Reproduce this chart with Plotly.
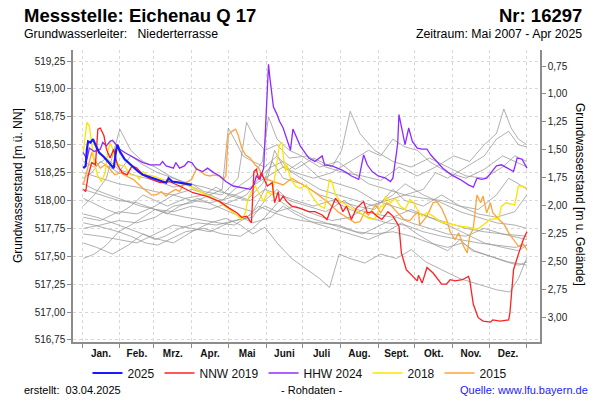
import plotly.graph_objects as go

# ---------------- data ----------------
MONATE = ["Jan.", "Feb.", "Mrz.", "Apr.", "Mai", "Juni", "Juli", "Aug.", "Sept.", "Okt.", "Nov.", "Dez."]
MONATSBEGINN = [0, 31, 59, 90, 120, 151, 181, 212, 243, 273, 304, 334, 365]
GELAENDE = 519.955  # Geländehöhe [m ü. NN]
NN_TICKS = [516.75, 517.00, 517.25, 517.50, 517.75, 518.00, 518.25, 518.50, 518.75, 519.00, 519.25]
GOK_TICKS = [0.75, 1.00, 1.25, 1.50, 1.75, 2.00, 2.25, 2.50, 2.75, 3.00]

tage_2025 = [1, 3, 4, 5, 7, 9, 11, 14, 18, 22, 26, 28, 29, 31, 35, 40, 46, 50, 55, 63, 69, 71, 74, 80, 87, 90]
wert_2025 = [518.29, 518.31, 518.46, 518.53, 518.52, 518.55, 518.50, 518.43, 518.39, 518.34, 518.29, 518.45,
             518.50, 518.44, 518.37, 518.32, 518.26, 518.23, 518.21, 518.18, 518.16, 518.20, 518.17, 518.16,
             518.15, 518.14]

tage_nnw2019 = [1, 3, 5, 8, 11, 13, 15, 18, 20, 23, 26, 29, 33, 37, 41, 45, 50, 57, 64, 72, 80, 91, 102, 113,
                121, 127, 131, 135, 139, 141, 143, 145, 147, 152, 156, 158, 161, 162, 165, 168, 172, 179, 186,
                191, 197, 201, 203, 208, 212, 214, 217, 221, 225, 231, 234, 238, 242, 246, 251, 255, 260, 262,
                266, 272, 275, 276, 279, 283, 288, 295, 299, 302, 306, 312, 317, 318, 321, 325, 329, 335, 337,
                343, 350, 351, 354, 358, 362, 365]
wert_nnw2019 = [518.10, 518.08, 518.22, 518.34, 518.32, 518.64, 518.65, 518.58, 518.46, 518.38,
                518.46, 518.32, 518.25, 518.23, 518.31, 518.29, 518.23, 518.19, 518.16, 518.17,
                518.13, 518.07, 518.04, 517.99, 517.93, 517.89, 517.85, 517.86, 517.80, 518.26,
                518.28, 518.19, 518.25, 518.13, 518.16, 517.98, 518.08, 517.99, 518.04, 517.99,
                517.95, 517.93, 517.90, 517.90, 517.87, 517.83, 517.89, 518.02, 517.96, 517.90,
                517.95, 517.83, 517.93, 517.99, 517.89, 517.90, 517.86, 517.83, 517.90, 517.86,
                517.77, 517.53, 517.38, 517.31, 517.28, 517.33, 517.26, 517.40, 517.35, 517.25,
                517.25, 517.29, 517.28, 517.29, 517.32, 517.29, 517.07, 516.95, 516.92, 516.91,
                516.93, 516.92, 516.93, 516.99, 517.38, 517.52, 517.65, 517.72]

tage_hhw2024 = [1, 4, 6, 10, 15, 17, 20, 23, 25, 28, 31, 35, 40, 45, 50, 56, 64, 66, 69, 75, 77, 80, 84, 87,
                90, 94, 99, 103, 108, 113, 118, 124, 134, 138, 141, 143, 146, 149, 151, 153, 154, 157, 160,
                162, 165, 168, 171, 173, 176, 179, 186, 191, 197, 199, 205, 212, 217, 221, 227, 231, 234, 238,
                243, 249, 253, 255, 258, 259, 260, 262, 265, 268, 271, 275, 279, 283, 286, 291, 296, 303, 310,
                317, 321, 324, 328, 332, 336, 340, 344, 350, 354, 357, 361, 365]
wert_hhw2024 = [518.43, 518.37, 518.47, 518.44, 518.46, 518.52, 518.49, 518.53, 518.54, 518.50,
                518.46, 518.43, 518.40, 518.37, 518.34, 518.32, 518.32, 518.35, 518.31, 518.29,
                518.34, 518.29, 518.31, 518.35, 518.34, 518.28, 518.26, 518.29, 518.25, 518.22,
                518.17, 518.13, 518.11, 518.10, 518.14, 518.22, 518.19, 518.29, 518.76, 519.22,
                519.11, 518.84, 518.77, 518.71, 518.65, 518.55, 518.45, 518.64, 518.57, 518.49,
                518.38, 518.35, 518.40, 518.32, 518.31, 518.28, 518.25, 518.22, 518.19, 518.41,
                518.32, 518.26, 518.22, 518.20, 518.17, 518.20, 518.43, 518.52, 518.77, 518.67,
                518.50, 518.65, 518.53, 518.47, 518.46, 518.46, 518.41, 518.35, 518.29, 518.23,
                518.19, 518.14, 518.12, 518.20, 518.19, 518.20, 518.26, 518.31, 518.32, 518.28,
                518.26, 518.38, 518.37, 518.29]

tage_2018 = [1, 4, 6, 8, 10, 13, 16, 19, 21, 23, 25, 27, 30, 35, 38, 40, 45, 47, 50, 53, 58, 66, 75, 86, 97,
             108, 116, 121, 127, 131, 134, 136, 139, 142, 146, 149, 152, 156, 162, 164, 165, 167, 168, 171,
             175, 179, 184, 187, 190, 194, 199, 203, 205, 208, 212, 217, 221, 227, 231, 235, 240, 245, 247,
             249, 253, 257, 261, 265, 269, 272, 275, 279, 283, 288, 294, 299, 306, 310, 318, 324, 329, 335,
             342, 344, 348, 355, 358, 361, 365]
wert_2018 = [518.43, 518.70, 518.67, 518.52, 518.34, 518.22, 518.17, 518.25, 518.43, 518.52,
             518.47, 518.37, 518.32, 518.31, 518.25, 518.23, 518.22, 518.19, 518.26, 518.23,
             518.22, 518.19, 518.17, 518.14, 518.08, 518.02, 517.96, 517.92, 517.87, 517.83,
             517.89, 518.01, 518.08, 518.13, 518.05, 517.99, 518.08, 518.05, 518.50, 518.52,
             518.41, 518.26, 518.32, 518.20, 518.13, 518.11, 518.14, 518.07, 518.02, 517.96,
             517.93, 518.19, 518.17, 518.05, 517.99, 517.96, 517.93, 517.90, 517.87, 517.84,
             517.83, 517.95, 517.95, 518.04, 517.98, 518.02, 517.95, 517.92, 518.01, 517.98,
             517.92, 517.86, 517.89, 517.86, 517.81, 517.80, 517.78, 517.77, 517.76, 517.74,
             517.78, 517.83, 517.84, 517.95, 517.98, 517.96, 518.13, 518.13, 518.11]

tage_2015 = [1, 5, 8, 10, 15, 19, 23, 27, 32, 36, 42, 47, 51, 57, 61, 65, 69, 72, 77, 80, 84, 87, 90, 94, 98,
             101, 105, 108, 112, 116, 118, 120, 123, 126, 128, 131, 134, 138, 142, 145, 149, 157, 165, 172,
             177, 186, 194, 202, 210, 219, 224, 228, 232, 235, 241, 245, 250, 253, 258, 264, 269, 272, 276,
             277, 283, 288, 291, 295, 299, 302, 306, 309, 313, 316, 318, 321, 324, 327, 329, 332, 335, 337,
             342, 346, 350, 354, 358, 362, 365]
wert_2015 = [518.14, 518.31, 518.43, 518.37, 518.29, 518.32, 518.28, 518.23, 518.25, 518.22,
             518.19, 518.14, 518.10, 518.05, 518.05, 518.08, 518.04, 518.07, 518.10, 518.08,
             518.16, 518.17, 518.19, 518.29, 518.26, 518.23, 518.22, 518.23, 518.22, 518.19,
             518.22, 518.59, 518.62, 518.64, 518.59, 518.47, 518.41, 518.38, 518.32, 518.29,
             518.20, 518.17, 518.14, 518.20, 518.17, 518.11, 518.05, 517.98, 517.90, 517.84,
             517.80, 517.81, 517.90, 517.87, 517.96, 517.89, 517.98, 517.96, 517.90, 517.83,
             517.82, 517.86, 517.90, 517.78, 517.86, 517.98, 517.99, 517.93, 517.83, 517.72,
             517.65, 517.71, 517.59, 517.53, 517.68, 517.75, 518.05, 517.98, 518.04, 517.89,
             517.98, 517.89, 517.83, 517.79, 517.71, 517.65, 517.59, 517.61, 517.56]

# other years (grey), (day of year, level)
grau_01 = [(1, 518.35), (10, 518.30), (20, 518.38), (30, 518.28), (45, 518.22), (60, 518.18), (75, 518.12),
           (90, 518.15), (100, 518.08), (115, 518.05), (128, 518.20), (135, 518.70), (142, 518.55),
           (150, 518.45), (160, 518.50), (170, 518.38), (185, 518.40), (200, 518.30), (215, 518.25),
           (230, 518.22), (245, 518.18), (260, 518.30), (275, 518.22), (290, 518.30), (305, 518.40),
           (318, 518.35), (330, 518.50), (340, 518.60), (346, 518.82), (352, 518.65), (358, 518.55), (365, 518.50)]
grau_02 = [(1, 517.95), (10, 518.05), (20, 518.20), (31, 518.64), (40, 518.45), (50, 518.35), (60, 518.30),
           (72, 518.22), (85, 518.15), (95, 518.10), (110, 518.00), (125, 517.95), (140, 517.90), (150, 518.10),
           (158, 518.45), (165, 518.30), (180, 518.20), (195, 518.10), (210, 518.05), (225, 518.00),
           (240, 517.95), (255, 518.05), (265, 518.15), (280, 518.05), (295, 517.98), (310, 517.90),
           (325, 517.85), (340, 517.80), (355, 517.78), (365, 517.75)]
grau_03 = [(1, 517.85), (15, 517.82), (30, 517.90), (45, 517.88), (60, 517.95), (75, 518.05), (90, 518.10),
           (105, 518.05), (115, 518.10), (120, 518.65), (125, 518.55), (132, 518.40), (140, 518.35),
           (150, 518.30), (160, 518.40), (170, 518.28), (180, 518.35), (195, 518.20), (210, 518.15),
           (225, 518.10), (240, 518.00), (255, 517.95), (270, 517.90), (285, 517.85), (300, 517.80),
           (315, 517.75), (330, 517.72), (345, 517.70), (365, 517.65)]
grau_04 = [(1, 518.10), (15, 518.05), (30, 518.00), (45, 517.98), (60, 517.92), (75, 517.90), (90, 517.95),
           (105, 517.92), (120, 517.98), (135, 518.05), (145, 518.20), (155, 518.30), (165, 518.35),
           (175, 518.28), (190, 518.38), (205, 518.30), (213, 518.45), (220, 518.80), (228, 518.60),
           (240, 518.45), (255, 518.35), (270, 518.30), (285, 518.38), (300, 518.30), (315, 518.22),
           (330, 518.20), (345, 518.30), (355, 518.40), (365, 518.35)]
grau_05 = [(1, 517.62), (12, 517.58), (25, 517.52), (38, 517.60), (50, 517.70), (60, 517.66), (75, 517.62),
           (90, 517.72), (105, 517.80), (118, 517.84), (130, 517.78), (140, 517.70), (150, 517.76),
           (160, 517.62), (172, 517.48), (185, 517.38), (195, 517.30), (203, 517.22), (208, 517.40),
           (211, 517.52), (220, 517.48), (232, 517.44), (245, 517.52), (258, 517.48), (270, 517.56),
           (282, 517.45), (295, 517.38), (310, 517.30), (325, 517.25), (340, 517.20), (351, 517.18),
           (358, 517.30), (365, 517.49)]
grau_06 = [(1, 517.48), (10, 517.52), (20, 517.60), (30, 517.72), (40, 517.78), (50, 517.85), (60, 517.92),
           (70, 517.88), (80, 517.95), (95, 518.02), (110, 517.95), (125, 517.88), (140, 517.80), (155, 517.85),
           (165, 517.95), (175, 517.88), (190, 517.80), (205, 517.75), (220, 517.70), (235, 517.65),
           (250, 517.72), (262, 517.80), (275, 517.70), (290, 517.60), (300, 517.55), (310, 517.65),
           (320, 517.55), (335, 517.50), (350, 517.45), (365, 517.42)]
grau_07 = [(1, 518.02), (10, 517.97), (20, 517.92), (30, 517.88), (40, 517.95), (50, 518.05), (60, 518.00),
           (70, 517.95), (85, 518.02), (100, 518.05), (110, 518.12), (120, 518.05), (135, 518.00),
           (148, 518.15), (156, 518.35), (165, 518.20), (180, 518.15), (195, 518.05), (210, 518.00),
           (225, 517.95), (240, 517.92), (255, 518.10), (265, 518.00), (280, 517.95), (295, 518.05),
           (310, 517.95), (325, 517.88), (340, 517.85), (355, 517.90), (365, 518.05)]
grau_08 = [(1, 517.88), (12, 517.85), (25, 517.80), (38, 517.75), (50, 517.70), (60, 517.65), (68, 517.68),
           (80, 517.75), (95, 517.80), (110, 517.78), (125, 517.82), (140, 517.85), (150, 518.00),
           (160, 518.10), (170, 518.00), (185, 517.95), (200, 517.90), (215, 518.00), (225, 517.92),
           (240, 517.88), (255, 517.85), (270, 517.92), (285, 517.85), (300, 517.78), (315, 517.70),
           (330, 517.62), (345, 517.58), (358, 517.55), (365, 517.60)]
grau_09 = [(1, 518.25), (15, 518.20), (30, 518.15), (45, 518.12), (60, 518.08), (75, 518.05), (90, 518.00),
           (105, 517.98), (120, 518.02), (135, 518.10), (150, 518.20), (165, 518.30), (175, 518.25),
           (190, 518.20), (205, 518.25), (220, 518.35), (235, 518.45), (245, 518.40), (255, 518.55),
           (265, 518.48), (275, 518.45), (285, 518.35), (300, 518.25), (315, 518.20), (330, 518.28),
           (345, 518.40), (355, 518.35), (365, 518.30)]
grau_10 = [(1, 517.75), (15, 517.78), (30, 517.82), (45, 517.80), (60, 517.85), (75, 517.95), (90, 517.98),
           (105, 518.05), (115, 518.00), (125, 518.10), (138, 518.20), (148, 518.35), (153, 518.75),
           (160, 518.55), (170, 518.45), (180, 518.40), (195, 518.30), (210, 518.35), (222, 518.25),
           (235, 518.15), (250, 518.10), (265, 518.05), (280, 518.02), (295, 518.00), (310, 517.95),
           (325, 517.92), (340, 518.05), (350, 518.20), (358, 518.15), (365, 518.10)]
grau_11 = [(1, 517.70), (15, 517.68), (30, 517.65), (45, 517.62), (60, 517.70), (75, 517.78), (90, 517.75),
           (105, 517.72), (120, 517.80), (135, 517.85), (150, 517.95), (160, 517.90), (175, 517.95),
           (190, 517.88), (205, 517.82), (220, 517.85), (235, 517.95), (250, 518.00), (265, 518.05),
           (280, 518.10), (290, 518.25), (300, 518.20), (315, 518.30), (330, 518.40), (340, 518.55),
           (350, 518.62), (358, 518.50), (365, 518.48)]
grau_12 = [(1, 518.15), (10, 518.10), (22, 518.05), (35, 518.00), (48, 517.95), (60, 517.92), (72, 517.88),
           (85, 517.85), (100, 517.82), (112, 517.80), (125, 517.78), (135, 517.85), (145, 517.95),
           (155, 517.90), (168, 517.85), (180, 517.82), (195, 517.80), (210, 517.78), (225, 517.72),
           (240, 517.70), (255, 517.72), (270, 517.68), (285, 517.62), (300, 517.58), (312, 517.62),
           (322, 517.55), (335, 517.50), (348, 517.45), (358, 517.42), (365, 517.45)]
grau_13 = [(1, 517.80), (10, 517.78), (20, 517.75), (30, 517.72), (40, 517.68), (52, 517.62), (62, 517.60),
           (72, 517.65), (85, 517.72), (100, 517.75), (115, 517.70), (130, 517.68), (140, 517.75),
           (150, 517.85), (162, 518.00), (172, 517.92), (185, 517.85), (200, 517.80), (215, 517.75),
           (230, 517.70), (245, 517.78), (258, 517.85), (270, 517.80), (285, 517.75), (300, 517.70),
           (315, 517.68), (330, 517.75), (345, 517.70), (365, 517.68)]
grau_14 = [(1, 518.20), (8, 518.25), (15, 518.35), (22, 518.30), (30, 518.25), (40, 518.40), (50, 518.32),
           (62, 518.25), (75, 518.20), (88, 518.15), (100, 518.12), (112, 518.08), (125, 518.05),
           (138, 518.00), (150, 518.10), (162, 518.05), (175, 518.00), (190, 517.95), (205, 518.00),
           (220, 517.92), (235, 517.85), (250, 517.80), (265, 517.78), (280, 517.72), (295, 517.68),
           (310, 517.65), (325, 517.62), (340, 517.60), (355, 517.58), (365, 517.60)]
GRAU = [grau_01, grau_02, grau_03, grau_04, grau_05, grau_06, grau_07,
        grau_08, grau_09, grau_10, grau_11, grau_12, grau_13, grau_14]

# ---------------- layout helpers ----------------
W, H = 600, 400
L, R, T, B = 73, 540, 50, 342
FONT = "Liberation Sans, Arial, sans-serif"


def px(x):
    return (x - L) / (R - L)


def py(y):
    return (B - y) / (B - T)


X_MIN, X_MAX = -7.4, 375.7
Y_MIN, Y_MAX = 516.732, 519.349

fig = go.Figure()

for serie in GRAU:
    fig.add_trace(go.Scatter(x=[p[0] for p in serie], y=[p[1] for p in serie], mode="lines",
                             line=dict(color="rgba(150,150,150,0.75)", width=1),
                             showlegend=False, hoverinfo="skip"))

fig.add_trace(go.Scatter(x=tage_2015, y=wert_2015, mode="lines", name="2015",
                         line=dict(color="#ffa33a", width=1.3)))
fig.add_trace(go.Scatter(x=tage_2018, y=wert_2018, mode="lines", name="2018",
                         line=dict(color="#ffe400", width=1.3)))
fig.add_trace(go.Scatter(x=tage_hhw2024, y=wert_hhw2024, mode="lines", name="HHW 2024",
                         line=dict(color="#8f2bff", width=1.3)))
fig.add_trace(go.Scatter(x=tage_nnw2019, y=wert_nnw2019, mode="lines", name="NNW 2019",
                         line=dict(color="#ff2020", width=1.3)))
fig.add_trace(go.Scatter(x=tage_2025, y=wert_2025, mode="lines", name="2025",
                         line=dict(color="#1a1aff", width=2.2)))

mitte = [(MONATSBEGINN[i] + MONATSBEGINN[i + 1]) / 2 for i in range(12)]
fig.add_trace(go.Scatter(x=mitte, y=[None] * 12, xaxis="x2", yaxis="y2", mode="lines",
                         showlegend=False, hoverinfo="skip"))

axis_common = dict(showline=True, linecolor="#8c8c8c", linewidth=1.5, zeroline=False,
                   ticks="outside", ticklen=4, tickcolor="#8c8c8c",
                   tickfont=dict(family=FONT, size=10, color="#222"))

fig.update_layout(
    width=W, height=H, autosize=False,
    margin=dict(l=L, r=W - R, t=T, b=H - B, pad=0),
    paper_bgcolor="white", plot_bgcolor="white",
    separators=",.",
    font=dict(family=FONT, size=11, color="#111"),
    xaxis=dict(range=[X_MIN, X_MAX], tickvals=MONATSBEGINN, ticktext=[""] * len(MONATSBEGINN),
               showgrid=True, gridcolor="#d8d8d8", griddash="3px,3px", gridwidth=1, **axis_common),
    xaxis2=dict(range=[X_MIN, X_MAX], overlaying="x", anchor="y", side="bottom",
                tickvals=mitte, ticktext=MONATE, showgrid=False, showline=False, zeroline=False,
                ticks="", ticklabelstandoff=4,
                tickfont=dict(family=FONT, size=10, color="#111", weight="bold")),
    yaxis=dict(range=[Y_MIN, Y_MAX], tickvals=NN_TICKS, tickformat=".2f",
               showgrid=True, gridcolor="#d8d8d8", griddash="3px,3px", gridwidth=1, **axis_common),
    yaxis2=dict(range=[GELAENDE - Y_MIN, GELAENDE - Y_MAX], overlaying="y", side="right", anchor="x",
                tickvals=GOK_TICKS, tickformat=".2f", showgrid=False, **axis_common),
    legend=dict(orientation="h", x=px(300), xanchor="center", y=py(373), yanchor="middle",
                traceorder="reversed", font=dict(family=FONT, size=12, color="#111"),
                itemwidth=30, bgcolor="rgba(0,0,0,0)"),
    showlegend=True,
)

ann = []
ann.append(dict(text="<b>Messstelle: Eichenau Q 17</b>", x=px(22), y=py(15), xanchor="left",
                yanchor="middle", font=dict(size=18.5, color="#000")))
ann.append(dict(text="<b>Nr: 16297</b>", x=px(584), y=py(15), xanchor="right",
                yanchor="middle", font=dict(size=18.5, color="#000")))
ann.append(dict(text="Grundwasserleiter:\u00a0\u00a0\u00a0Niederterrasse", x=px(22), y=py(34),
                xanchor="left", yanchor="middle", font=dict(size=12.3, color="#000")))
ann.append(dict(text="Zeitraum: Mai 2007 - Apr 2025", x=px(584), y=py(34),
                xanchor="right", yanchor="middle", font=dict(size=12.3, color="#000")))
ann.append(dict(text="Grundwasserstand [m ü. NN]", x=px(18), y=py(186), textangle=-90,
                xanchor="center", yanchor="middle", font=dict(size=12, color="#000")))
ann.append(dict(text="Grundwasserstand [m u. Gelände]", x=px(580), y=py(194), textangle=90,
                xanchor="center", yanchor="middle", font=dict(size=12, color="#000")))
ann.append(dict(text="erstellt:\u00a0\u00a003.04.2025", x=px(22), y=py(390), xanchor="left",
                yanchor="middle", font=dict(size=11, color="#000")))
ann.append(dict(text="- Rohdaten -", x=px(311), y=py(390), xanchor="center",
                yanchor="middle", font=dict(size=11, color="#000")))
ann.append(dict(text="Quelle: www.lfu.bayern.de", x=px(590), y=py(390), xanchor="right",
                yanchor="middle", font=dict(size=11, color="#1a1aff")))
for a in ann:
    a.update(xref="paper", yref="paper", showarrow=False)
fig.update_layout(annotations=ann)

fig.write_html("out.html", config={"displayModeBar": False},
               post_script="document.body.style.margin='0';")
